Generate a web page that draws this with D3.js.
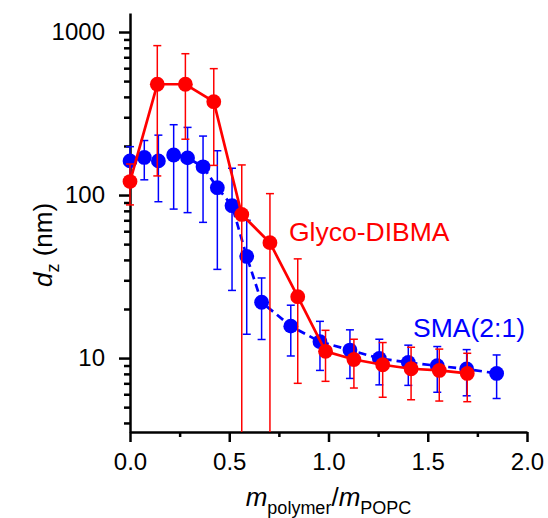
<!DOCTYPE html>
<html>
<head>
<meta charset="utf-8">
<script src="https://cdn.jsdelivr.net/npm/d3@7"></script>
<style>
  body { margin: 0; background: #fff; }
  svg { display: block; font-family: "Liberation Sans", Arial, sans-serif; }
</style>
</head>
<body>
<div id="chart"></div>
<script>
// SMA(2:1) series
const smaX = [0, 0.072, 0.143, 0.22, 0.29, 0.368, 0.44, 0.514, 0.588, 0.663, 0.81, 0.957, 1.108, 1.256, 1.402, 1.548, 1.696, 1.847];
const smaD = [162, 170, 162, 176, 169, 149, 111, 86, 42, 22, 15.7, 12.6, 11.2, 9.95, 9.4, 8.97, 8.57, 8.05];
const smaErr = [36, 46, 71, 94, 91, 81, 76, 60, 28, 9, 5.4, 4.2, 3.7, 3.1, 2.6, 2.8, 2.7, 2.4];

// Glyco-DIBMA series
const glycoX = [0, 0.1375, 0.279, 0.422, 0.563, 0.705, 0.845, 0.985, 1.128, 1.273, 1.416, 1.558, 1.699];
const glycoD = [121, 478, 478, 374, 76, 51, 23.8, 11.0, 9.8, 9.1, 8.6, 8.4, 8.05];
const glycoErr = [34, 347, 258, 222, 77, 51, 16.8, 3.8, 3.25, 3.35, 3.05, 2.95, 2.65];

const xTicks = [0, 0.5, 1.0, 1.5, 2.0];
const xMinor = [0.25, 0.75, 1.25, 1.75];
const yTicks = [10, 100, 1000];
const yMinor = [4, 5, 6, 7, 8, 9, 20, 30, 40, 50, 60, 70, 80, 90, 200, 300, 400, 500, 600, 700, 800, 900];

const w = 548, h = 518;
const margin = {top: 13, right: 21, bottom: 86, left: 130};

const svg = d3.select("#chart").append("svg")
    .attr("width", w)
    .attr("height", h);

const x = d3.scaleLinear().domain([0, 2]).range([margin.left, w - margin.right]);
const y = d3.scaleLog().domain([3.52, 1308]).range([h - margin.bottom, margin.top]);
const yMin = y.domain()[0];

// axes
const xAxis = svg.append("g")
    .attr("transform", "translate(0," + (h - margin.bottom) + ")")
    .call(d3.axisBottom(x).tickValues(xTicks).tickFormat(d3.format(".1f"))
        .tickSize(10).tickSizeOuter(0).tickPadding(11));
svg.append("g")
    .attr("transform", "translate(0," + (h - margin.bottom) + ")")
    .call(d3.axisBottom(x).tickValues(xMinor).tickFormat("").tickSize(5).tickSizeOuter(0))
    .select(".domain").remove();

const yAxis = svg.append("g")
    .attr("transform", "translate(" + margin.left + ",0)")
    .call(d3.axisLeft(y).tickValues(yTicks).tickFormat(d3.format("d"))
        .tickSize(11).tickSizeOuter(0).tickPadding(14));
svg.append("g")
    .attr("transform", "translate(" + margin.left + ",0)")
    .call(d3.axisLeft(y).tickValues(yMinor).tickFormat("").tickSize(6).tickSizeOuter(0))
    .select(".domain").remove();

svg.selectAll(".domain, .tick line")
    .attr("stroke", "#000")
    .attr("stroke-width", 2.5);
svg.selectAll(".tick text")
    .attr("font-size", "24px")
    .attr("fill", "#000")
    .attr("font-family", "'Liberation Sans', Arial, sans-serif");

function drawSeries(xs, ds, errs, color, dashed) {
    const pts = xs.map((v, i) => ({x: v, d: ds[i], e: errs[i]}));
    const g = svg.append("g");

    g.append("path")
        .datum(pts)
        .attr("fill", "none")
        .attr("stroke", color)
        .attr("stroke-width", 2.7)
        .attr("stroke-dasharray", dashed ? "8,5" : null)
        .attr("d", d3.line().x(p => x(p.x)).y(p => y(p.d)));

    const cap = 4;
    const eb = g.selectAll(".err").data(pts).enter().append("g")
        .attr("stroke", color)
        .attr("stroke-width", 1.5);
    eb.append("line")
        .attr("x1", p => x(p.x)).attr("x2", p => x(p.x))
        .attr("y1", p => y(p.d + p.e))
        .attr("y2", p => y(Math.max(p.d - p.e, yMin)));
    eb.append("line")
        .attr("x1", p => x(p.x) - cap).attr("x2", p => x(p.x) + cap)
        .attr("y1", p => y(p.d + p.e)).attr("y2", p => y(p.d + p.e));
    eb.filter(p => p.d - p.e > yMin).append("line")
        .attr("x1", p => x(p.x) - cap).attr("x2", p => x(p.x) + cap)
        .attr("y1", p => y(p.d - p.e)).attr("y2", p => y(p.d - p.e));

    g.selectAll("circle").data(pts).enter().append("circle")
        .attr("cx", p => x(p.x))
        .attr("cy", p => y(p.d))
        .attr("r", 7.4)
        .attr("fill", color);
}

drawSeries(smaX, smaD, smaErr, "#0000ff", true);
drawSeries(glycoX, glycoD, glycoErr, "#ff0000", false);

// series labels
svg.append("text")
    .attr("x", x(0.801)).attr("y", y(52.3))
    .attr("font-size", "26.5px")
    .attr("fill", "#ff0000")
    .text("Glyco-DIBMA");
svg.append("text")
    .attr("x", x(1.426)).attr("y", y(13.5))
    .attr("font-size", "26.5px")
    .attr("fill", "#0000ff")
    .text("SMA(2:1)");

// axis titles
const xt = svg.append("text")
    .attr("x", x(1.0)).attr("y", 506)
    .attr("text-anchor", "middle")
    .attr("font-size", "26px");
xt.append("tspan").attr("font-style", "italic").text("m");
xt.append("tspan").attr("font-size", "18px").attr("dy", 8).text("polymer");
xt.append("tspan").attr("dy", -8).text("/");
xt.append("tspan").attr("font-style", "italic").text("m");
xt.append("tspan").attr("font-size", "18px").attr("dy", 8).text("POPC");

const yt = svg.append("text")
    .attr("transform", "translate(52," + 245 + ") rotate(-90)")
    .attr("text-anchor", "middle")
    .attr("font-size", "26px");
yt.append("tspan").attr("font-style", "italic").text("d");
yt.append("tspan").attr("font-size", "18px").attr("dy", 7).text("z");
yt.append("tspan").attr("dy", -7).text(" (nm)");
</script>
</body>
</html>
